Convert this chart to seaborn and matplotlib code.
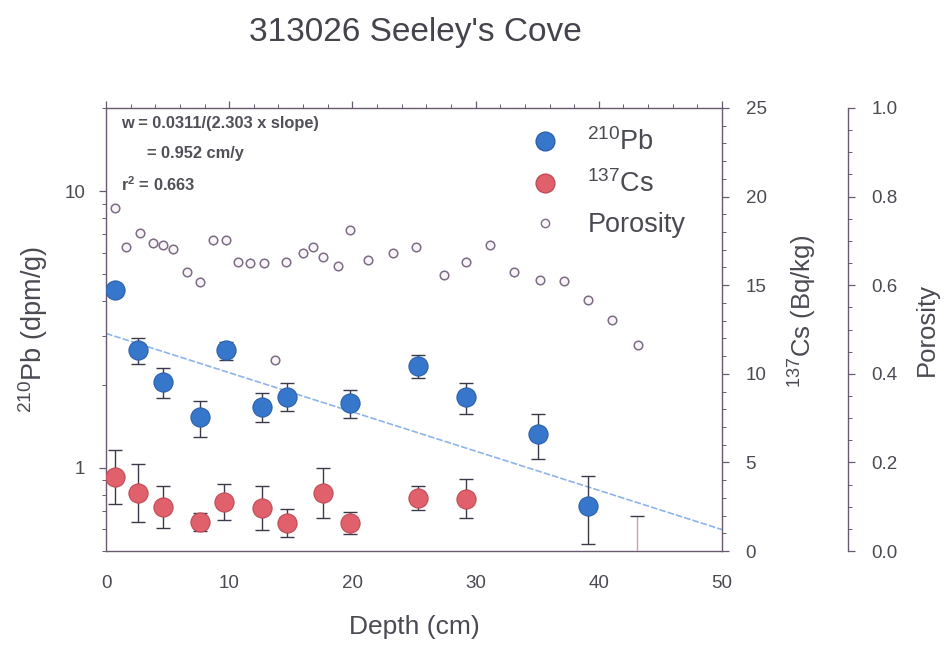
import numpy as np
import pandas as pd
import matplotlib
matplotlib.use("Agg")
import matplotlib.pyplot as plt
import seaborn as sns
from matplotlib.ticker import LogLocator, FormatStrFormatter, MultipleLocator, NullFormatter
from matplotlib.lines import Line2D

# ---- core data -------------------------------------------------------------
pb_depth = [0.7, 2.6, 4.6, 7.6, 9.7, 12.7, 14.7, 19.8, 25.3, 29.2, 35.1, 39.1]
pb_activity = [4.38, 2.66, 2.04, 1.52, 2.66, 1.66, 1.81, 1.71, 2.33, 1.80, 1.32, 0.73]
pb_error = [0.20, 0.28, 0.25, 0.23, 0.20, 0.20, 0.21, 0.20, 0.22, 0.23, 0.24, 0.20]

cs_depth = [0.7, 2.6, 4.6, 7.6, 9.6, 12.7, 14.7, 17.6, 19.8, 25.3, 29.2, 43.1]
cs_activity = [4.18, 3.28, 2.49, 1.64, 2.77, 2.43, 1.58, 3.28, 1.58, 2.99, 2.94, -1.0]
cs_error = [1.50, 1.65, 1.20, 0.50, 1.00, 1.25, 0.80, 1.40, 0.60, 0.70, 1.10, 3.00]

por_depth = [0.7, 1.6, 2.8, 3.8, 4.6, 5.4, 6.6, 7.6, 8.7, 9.7, 10.7, 11.7, 12.8,
             13.7, 14.6, 16.0, 16.8, 17.6, 18.8, 19.8, 21.3, 23.3, 25.2, 27.4,
             29.2, 31.2, 33.1, 35.2, 37.2, 39.1, 41.1, 43.2]
porosity = [0.774, 0.686, 0.718, 0.695, 0.691, 0.682, 0.630, 0.607, 0.702, 0.702,
            0.652, 0.650, 0.650, 0.431, 0.652, 0.673, 0.686, 0.664, 0.643, 0.725,
            0.657, 0.673, 0.686, 0.623, 0.652, 0.691, 0.630, 0.612, 0.610, 0.567,
            0.521, 0.465]

# sedimentation-rate fit: w = 0.0311 / (2.303 x slope)
rate_const = 0.0311
rate_w = 0.952
fit_r2 = 0.663
fit_intercept = 3.06          # 210Pb at zero depth (dpm/g)
fit_range = [0, 50]

# ---- style -----------------------------------------------------------------
sns.set_theme(style="white")
plt.rcParams["font.family"] = ["Liberation Sans", "DejaVu Sans"]
plt.rcParams["mathtext.default"] = "regular"

text_col = "#4a4a52"
spine_col = "#6a5a70"
pb_col = "#3677cc"
cs_col = "#e0606c"
por_edge = "#7c6c84"
fit_col = "#8fb4ea"

fig = plt.figure(figsize=(9.48, 6.46), dpi=100)
ax = fig.add_axes([106 / 948, 1 - 551 / 646, 616 / 948, 443 / 646])
ax2 = ax.twinx()
ax3 = ax.twinx()
ax3.spines["right"].set_position(("axes", 1 + 126 / 616))

pb_df = pd.DataFrame({"depth": pb_depth, "pb": pb_activity, "err": pb_error})
cs_df = pd.DataFrame({"depth": cs_depth, "cs": cs_activity, "err": cs_error})
por_df = pd.DataFrame({"depth": por_depth, "porosity": porosity})

# fitted exponential decay (straight on a log axis)
slope = rate_const / (2.303 * rate_w)
fit_depth = np.array(fit_range, dtype=float)
fit_df = pd.DataFrame({"depth": fit_depth,
                       "pb": 10 ** (np.log10(fit_intercept) - slope * fit_depth)})

ax.set_yscale("log")
sns.lineplot(data=fit_df, x="depth", y="pb", ax=ax, color=fit_col, lw=1.2,
             linestyle=(0, (4, 1.2)), zorder=2)
ax.errorbar(pb_df["depth"], pb_df["pb"], yerr=pb_df["err"], fmt="none",
            ecolor="#3a3a4a", elinewidth=1.0, capsize=5, capthick=1.0, zorder=3)
sns.scatterplot(data=pb_df, x="depth", y="pb", ax=ax, s=190, color=pb_col,
                edgecolor="#2c5fa8", linewidth=0.8, zorder=4, legend=False)

cs_bars = ax2.errorbar(cs_df["depth"], cs_df["cs"], yerr=cs_df["err"], fmt="none",
                       ecolor="#3a3a4a", elinewidth=1.0, capsize=5, capthick=1.0,
                       zorder=3)
# the deepest 137Cs sample sits below detection: only a faint bar remains
seg_cols = ["#3a3a4a"] * (len(cs_depth) - 1) + ["#c9a0b0"]
cs_bars.lines[2][0].set_colors(seg_cols)
sns.scatterplot(data=cs_df, x="depth", y="cs", ax=ax2, s=190, color=cs_col,
                edgecolor="#c04a55", linewidth=0.8, zorder=4, legend=False)

sns.scatterplot(data=por_df, x="depth", y="porosity", ax=ax3, s=38, marker="o",
                facecolor="#f8f4f8", edgecolor=por_edge, linewidth=1.1,
                zorder=5, legend=False)

# ---- axes ------------------------------------------------------------------
ax.set_xlim(0, 50)
ax.set_ylim(0.5, 20)
ax2.set_ylim(0, 25)
ax3.set_ylim(0, 1.0)

ax.xaxis.set_major_locator(MultipleLocator(10))
ax.xaxis.set_minor_locator(MultipleLocator(2))
ax.yaxis.set_major_locator(LogLocator(base=10))
ax.yaxis.set_minor_locator(LogLocator(base=10, subs=np.arange(2, 10)))
ax.yaxis.set_major_formatter(FormatStrFormatter("%g"))
ax.yaxis.set_minor_formatter(NullFormatter())
ax2.yaxis.set_major_locator(MultipleLocator(5))
ax2.yaxis.set_minor_locator(MultipleLocator(1))
ax3.yaxis.set_major_locator(MultipleLocator(0.2))
ax3.yaxis.set_minor_locator(MultipleLocator(0.05))
ax3.yaxis.set_major_formatter(FormatStrFormatter("%.1f"))

for a in (ax, ax2, ax3):
    a.tick_params(which="both", direction="out", colors=spine_col,
                  labelcolor=text_col, labelsize=13.5)
    a.tick_params(which="major", length=5, width=0.9)
    a.tick_params(which="minor", length=3, width=0.7)
    for s in a.spines.values():
        s.set_color(spine_col)
        s.set_linewidth(1.0)
ax.tick_params(axis="x", which="both", top=True, pad=12)
ax.tick_params(axis="y", pad=10)
ax2.tick_params(axis="y", pad=12)
ax3.tick_params(axis="y", pad=12)
for a in (ax2, ax3):
    a.spines["top"].set_visible(False)
    a.spines["left"].set_visible(False)
    a.spines["bottom"].set_visible(False)
ax.spines["right"].set_visible(False)

ax.set_xlabel("Depth (cm)", fontsize=19, color=text_col, labelpad=17)
ax.set_ylabel(r"$^{210}$Pb (dpm/g)", fontsize=19.5, color=text_col, labelpad=10)
ax2.set_ylabel(r"$^{137}$Cs (Bq/kg)", fontsize=18.5, color=text_col)
ax2.yaxis.set_label_coords(1.106, 0.54)
ax3.set_ylabel("Porosity", fontsize=18.5, color=text_col, labelpad=12)

fig.text(415 / 948, 1 - 32 / 646, "313026 Seeley's Cove", ha="center",
         va="center", fontsize=24, color="#44444c")

# ---- fit annotation --------------------------------------------------------
ann_kw = dict(transform=ax.transAxes, fontsize=11.8, fontweight="bold",
              color="#505058", va="center", ha="left", zorder=6)
ax3.text(0.024, 0.964, f"w = {rate_const}/(2.303 x slope)", **ann_kw)
ax3.text(0.067, 0.898, f"= {rate_w} cm/y", **ann_kw)
ax3.text(0.024, 0.828, f"r$^{{2}}$ = {fit_r2}", **ann_kw)

# ---- legend ----------------------------------------------------------------
handles = [
    Line2D([], [], ls="none", marker="o", ms=13.5, color=pb_col, mec="#2c5fa8"),
    Line2D([], [], ls="none", marker="o", ms=13.5, color=cs_col, mec="#c04a55"),
    Line2D([], [], ls="none", marker="o", ms=6, mfc="#f8f4f8", mec=por_edge),
]
labels = [r"$^{210}$Pb", r"$^{137}$Cs", "Porosity"]
leg = ax3.legend(handles, labels, loc="upper left",
                 bbox_to_anchor=(504 / 948, 1 - 115 / 646),
                 bbox_transform=fig.transFigure, frameon=False, fontsize=19.5,
                 handletextpad=0.58, labelspacing=0.52, borderpad=0)
for t in leg.get_texts():
    t.set_color(text_col)

fig.savefig("out.png", dpi=100, facecolor="white")
